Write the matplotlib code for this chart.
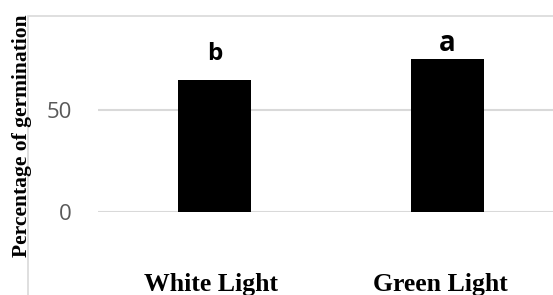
import matplotlib
matplotlib.use('Agg')
import matplotlib.pyplot as plt
from matplotlib.patches import Rectangle
from matplotlib.transforms import ScaledTranslation

# data
treatments = ["White Light", "Green Light"]
germination = [65, 75]
letters = ["b", "a"]
letter_sizes = [17.5, 20]
letter_offsets = [14, 6]  # points above the bar top

fig = plt.figure(figsize=(5.53, 2.95), dpi=100)
ax = fig.add_axes([98 / 553, 1 - 212.3 / 295, 466 / 553, (212.3 - 16) / 295])

# chart border (partly cropped in the original)
fig.patches.append(Rectangle((28 / 553, -0.1), 1.2, 1.1 - 16 / 295, transform=fig.transFigure,
                             fill=False, edgecolor='#d9d9d9', linewidth=1.2, zorder=0))

x = list(range(len(treatments)))
ax.bar(x, germination, width=0.313, color='black', zorder=2)

for i in x:
    ax.annotate(letters[i], (x[i], germination[i]), xytext=(0, letter_offsets[i]),
                textcoords='offset points', ha='center', va='baseline',
                fontsize=letter_sizes[i], fontweight='bold', family='Open Sans')

ax.set_xlim(-0.5, 1.5)
ax.set_ylim(0, 96.2)
ax.set_yticks([0, 50])
ax.yaxis.grid(True, color='#d9d9d9', linewidth=1.5, zorder=0)
ax.set_axisbelow(True)
for s in ax.spines.values():
    s.set_visible(False)

ax.tick_params(axis='y', length=0, pad=19, labelsize=16, labelcolor='#595959')
for t in ax.get_yticklabels():
    t.set_family('Open Sans')
ax.set_xticks(x)
ax.set_xticklabels(treatments, fontsize=18.5, fontweight='bold', family='Liberation Serif')
ax.tick_params(axis='x', length=0, pad=44)
# labels sit a little left of the bar centres in the original
for lab, dx in zip(ax.get_xticklabels(), [-4, -7]):
    lab.set_transform(lab.get_transform() + ScaledTranslation(dx / 100, 0, fig.dpi_scale_trans))

fig.text(22 / 553, 1 - 136 / 295, "Percentage of germination", rotation=90,
         ha='center', va='center', fontsize=15.5, fontweight='bold', family='Liberation Serif')

fig.savefig('out.png', dpi=100)
